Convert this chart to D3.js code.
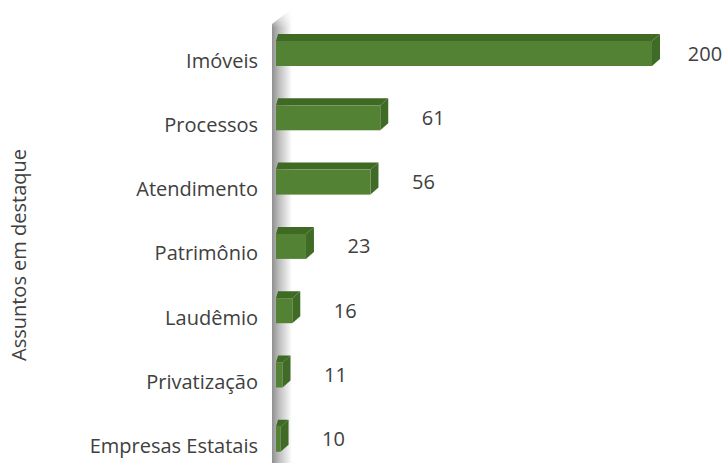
<!DOCTYPE html>
<html>
<head>
<meta charset="utf-8">
<script src="https://cdn.jsdelivr.net/npm/d3@7"></script>
<style>
  body { margin: 0; background: #fff; }
  svg { display: block; }
</style>
</head>
<body>
<div id="chart"></div>
<script>
// dados do gráfico
const categories = ['Imóveis', 'Processos', 'Atendimento', 'Patrimônio', 'Laudêmio', 'Privatização', 'Empresas Estatais'];
const values = [200, 61, 56, 23, 16, 11, 10];
const axisTitle = 'Assuntos em destaque';

const width = 725;
const height = 463;
const wallLeft = 272;
const wallFront = 276;
const depthX = 8;
const depthY = 7;
const barH = 25;
const fontSize = '20px';

const svg = d3.select('#chart')
    .append('svg')
    .attr('width', width)
    .attr('height', height);

// escalas
const x = d3.scaleLinear()
    .domain([0, 200])
    .range([261, 652]);

const y = d3.scalePoint()
    .domain(categories)
    .range([53.5, 439.3]);

// gradiente da parede
const defs = svg.append('defs');
const grad = defs.append('linearGradient')
    .attr('id', 'wallGrad')
    .attr('x1', '0%').attr('x2', '100%')
    .attr('y1', '0%').attr('y2', '0%');
grad.append('stop').attr('offset', '0%').attr('stop-color', '#8f8f8f');
grad.append('stop').attr('offset', '35%').attr('stop-color', '#bdbdbd');
grad.append('stop').attr('offset', '100%').attr('stop-color', '#ffffff');

const fade = defs.append('linearGradient')
    .attr('id', 'wallFade')
    .attr('x1', '0%').attr('x2', '0%')
    .attr('y1', '0%').attr('y2', '100%');
fade.append('stop').attr('offset', '0%').attr('stop-color', '#fff').attr('stop-opacity', 1);
fade.append('stop').attr('offset', '100%').attr('stop-color', '#fff').attr('stop-opacity', 0);

// parede
svg.append('path')
    .attr('d', `M${wallLeft},24 L${wallLeft + 18},10 L${wallLeft + 20},10 L${wallLeft + 20},${height} L${wallLeft},${height} Z`)
    .attr('fill', 'url(#wallGrad)');
svg.append('rect')
    .attr('x', wallLeft).attr('y', 8)
    .attr('width', 21).attr('height', 20)
    .attr('fill', 'url(#wallFade)');

// barras 3D
const bars = svg.selectAll('.bar')
    .data(categories.map((c, i) => ({ name: c, value: values[i] })))
    .enter()
    .append('g')
    .attr('class', 'bar');

bars.append('path')
    .attr('d', d => {
        const top = y(d.name) - barH / 2;
        const xr = x(d.value);
        return `M${wallFront},${top} L${wallFront + 2},${top - depthY} L${xr + depthX},${top - depthY} L${xr},${top} Z`;
    })
    .attr('fill', '#3e6a24');

bars.append('path')
    .attr('d', d => {
        const top = y(d.name) - barH / 2;
        const xr = x(d.value);
        return `M${xr},${top} L${xr + depthX},${top - depthY} L${xr + depthX},${top + barH - depthY} L${xr},${top + barH} Z`;
    })
    .attr('fill', '#406b27');

bars.append('rect')
    .attr('x', wallFront)
    .attr('y', d => y(d.name) - barH / 2)
    .attr('width', d => x(d.value) - wallFront)
    .attr('height', barH)
    .attr('fill', '#548235');

// rótulos de valor
bars.append('text')
    .attr('x', d => x(d.value) + 53)
    .attr('y', d => y(d.name))
    .attr('dy', '0.35em')
    .attr('text-anchor', 'middle')
    .style('font-family', 'Open Sans, sans-serif')
    .style('font-size', fontSize)
    .style('fill', '#404040')
    .text(d => d.value);

// rótulos das categorias
svg.selectAll('.cat')
    .data(categories)
    .enter()
    .append('text')
    .attr('class', 'cat')
    .attr('x', 258)
    .attr('y', d => y(d) + 7)
    .attr('dy', '0.35em')
    .attr('text-anchor', 'end')
    .style('font-family', 'Open Sans, sans-serif')
    .style('font-size', fontSize)
    .style('fill', '#404040')
    .text(d => d);

// título do eixo
svg.append('text')
    .attr('transform', 'translate(19, 255) rotate(-90)')
    .attr('text-anchor', 'middle')
    .attr('dy', '0.35em')
    .style('font-family', 'Open Sans, sans-serif')
    .style('font-size', fontSize)
    .style('fill', '#404040')
    .text(axisTitle);
</script>
</body>
</html>
